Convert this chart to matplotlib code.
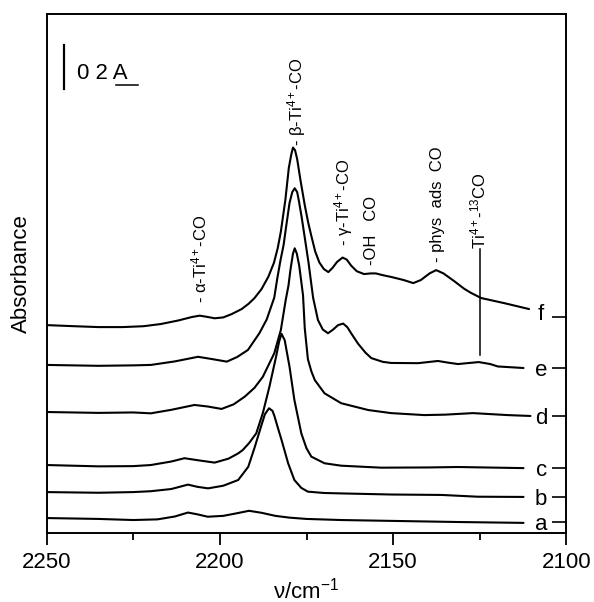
import matplotlib
matplotlib.use('Agg')
import matplotlib.pyplot as plt

plt.rcParams['font.family'] = ['Liberation Sans', 'DejaVu Sans']
plt.rcParams['mathtext.fontset'] = 'custom'
plt.rcParams['mathtext.rm'] = 'Liberation Sans'
plt.rcParams['mathtext.it'] = 'Liberation Sans:italic'
plt.rcParams['mathtext.bf'] = 'Liberation Sans:bold'

# ---- data (wavenumber / cm-1, absorbance incl. vertical offset) ----
wn_a = [2250, 2235, 2225, 2218, 2213, 2209.2, 2206.5, 2203.5, 2199, 2195, 2191.6, 2188,
        2184, 2180, 2175, 2165, 2150, 2131.3, 2112.4]
abs_a = [0.068, 0.064, 0.059, 0.062, 0.075, 0.093, 0.085, 0.074, 0.078, 0.090, 0.101, 0.092,
         0.078, 0.070, 0.064, 0.059, 0.055, 0.050, 0.046]

wn_b = [2250, 2235, 2225, 2219.9, 2214, 2209.2, 2206.5, 2203.4, 2199, 2194.7, 2191.8, 2189.9,
        2188.0, 2187.0, 2185.8, 2184.8, 2184.2, 2183.2, 2182.2, 2180.3, 2178.5, 2176.5,
        2174.6, 2170, 2165, 2150.6, 2136, 2125.6, 2112.4]
abs_b = [0.186, 0.183, 0.186, 0.190, 0.200, 0.220, 0.210, 0.203, 0.215, 0.241, 0.301, 0.392,
         0.490, 0.540, 0.567, 0.555, 0.529, 0.475, 0.423, 0.317, 0.241, 0.205,
         0.188, 0.182, 0.180, 0.175, 0.173, 0.165, 0.164]

wn_c = [2250, 2235, 2225, 2219.9, 2214, 2210.2, 2206, 2201.5, 2197.5, 2194.7, 2193.4, 2191.5,
        2189.5, 2187.6, 2185.7, 2183.8, 2182.9, 2182.2, 2181.3, 2179.9, 2178.5, 2176.5,
        2175, 2173.6, 2169.8, 2165, 2153.5, 2140, 2131.3, 2112.4]
abs_c = [0.309, 0.303, 0.304, 0.309, 0.325, 0.340, 0.330, 0.320, 0.338, 0.362, 0.377, 0.410,
         0.453, 0.545, 0.665, 0.800, 0.870, 0.905, 0.877, 0.756, 0.605, 0.453,
         0.385, 0.347, 0.317, 0.306, 0.297, 0.298, 0.300, 0.295]

wn_d = [2250, 2235, 2225, 2219.9, 2214, 2207.3, 2203.5, 2199.5, 2196, 2192.8, 2190, 2187.6,
        2184.3, 2182.4, 2181.0, 2180.2, 2179.6, 2178.9, 2178.4, 2177.8, 2177.1, 2176.0,
        2175.5, 2174.6, 2173.6, 2172.6, 2169.8, 2165, 2157.2, 2150.6, 2141, 2135, 2127,
        2117, 2110.4]
abs_d = [0.550, 0.546, 0.548, 0.544, 0.560, 0.582, 0.575, 0.564, 0.585, 0.620, 0.660, 0.710,
         0.817, 0.923, 1.059, 1.125, 1.200, 1.270, 1.294, 1.270, 1.215, 1.080,
         0.930, 0.790, 0.735, 0.695, 0.635, 0.590, 0.559, 0.545, 0.536, 0.538, 0.545,
         0.536, 0.532]

wn_e = [2250, 2235, 2225, 2219.9, 2213, 2206.3, 2202, 2198, 2195, 2191.9, 2188.6, 2186.5,
        2184.3, 2183.4, 2182.5, 2181.6, 2180.9, 2179.9, 2179.1, 2178.4, 2177.7, 2177.2,
        2176.4, 2175.4, 2174.4, 2173.1, 2171.7, 2170.3, 2168.8, 2167.3, 2165.9, 2164.4,
        2163.2, 2162.0, 2160.1, 2158, 2156.3, 2153, 2150.6, 2142.8, 2137.1, 2134, 2131.3,
        2125.3, 2122, 2119.8, 2112.4]
abs_e = [0.764, 0.760, 0.762, 0.764, 0.780, 0.801, 0.790, 0.779, 0.800, 0.832, 0.908, 0.970,
         1.070, 1.160, 1.240, 1.310, 1.390, 1.500, 1.550, 1.567, 1.550, 1.510,
         1.436, 1.332, 1.227, 1.070, 0.968, 0.925, 0.908, 0.925, 0.945, 0.952,
         0.935, 0.905, 0.860, 0.820, 0.795, 0.778, 0.773, 0.772, 0.782, 0.774, 0.768,
         0.777, 0.768, 0.757, 0.750]

wn_f = [2250, 2242, 2235, 2228, 2222, 2217, 2212, 2208, 2205.8, 2203.5, 2201.5, 2199,
        2196.6, 2193.7, 2191.7, 2190, 2188, 2186, 2184.4, 2183.3, 2182.4, 2181.1, 2180.1,
        2179.4, 2178.9, 2178.3, 2177.7, 2176.7, 2175.5, 2174.5, 2173.6, 2172.5, 2171.3,
        2170.0, 2168.7, 2167.5, 2166.2, 2164.6, 2163.4, 2162.1, 2160.5, 2158.4, 2156.5,
        2155.0, 2153, 2150.6, 2147, 2144.2, 2142, 2139.5, 2137.6, 2135.5, 2132.4, 2129.5,
        2127.5, 2124.6, 2118.0, 2110.8]
abs_f = [0.945, 0.940, 0.936, 0.936, 0.940, 0.950, 0.966, 0.982, 0.988, 0.982, 0.976, 0.980,
         0.995, 1.018, 1.042, 1.068, 1.108, 1.165, 1.228, 1.295, 1.370, 1.514, 1.660,
         1.720, 1.752, 1.740, 1.700, 1.600, 1.490, 1.410, 1.350, 1.280, 1.230,
         1.200, 1.186, 1.205, 1.232, 1.252, 1.243, 1.215, 1.190, 1.177, 1.180,
         1.180, 1.172, 1.164, 1.150, 1.136, 1.150, 1.180, 1.195, 1.180, 1.145, 1.110,
         1.091, 1.068, 1.045, 1.018]

curve_labels = ['a', 'b', 'c', 'd', 'e', 'f']
baselines = [0.050, 0.164, 0.295, 0.532, 0.750, 0.982]
label_levels = [0.050, 0.164, 0.295, 0.532, 0.750, 1.005]

band_texts = ['- α-Ti$^{4+}$-CO', '- β-Ti$^{4+}$-CO', '- γ-Ti$^{4+}$-CO',
              '-OH   CO', '- phys  ads  CO', 'Ti$^{4+}$-$^{13}$CO']
band_wn = [2205.9, 2177.9, 2164.4, 2156.2, 2137.2, 2125.3]
band_y = [1.045, 1.760, 1.305, 1.218, 1.232, 1.290]

xticks_major = [2250, 2200, 2150, 2100]
xticks_minor = [2225, 2175, 2125]

# ---- figure ----
fig = plt.figure(figsize=(5.94, 6.02), dpi=100)
ax = fig.add_axes([0.0783, 0.1146, 0.8754, 0.8621])

series = [(wn_a, abs_a), (wn_b, abs_b), (wn_c, abs_c),
          (wn_d, abs_d), (wn_e, abs_e), (wn_f, abs_f)]
for (w, a) in series:
    ax.plot(w, a, color='black', lw=1.5, solid_joinstyle='round', solid_capstyle='round')

for lab, lv in zip(curve_labels, label_levels):
    ax.text(2107.3, lv, lab, ha='center', va='center_baseline', fontsize=16)

for t, w, y in zip(band_texts, band_wn, band_y):
    ax.text(w, y, t, rotation=90, ha='center', va='bottom', fontsize=12)

# marker line for the 13CO band
ax.plot([2125.0, 2125.0], [0.809, 1.290], color='black', lw=1.1)

# scale bar 0.2 A
ax.plot([2244.9, 2244.9], [2.018, 2.218], color='black', lw=1.6)
ax.text(2241.3, 2.09, '0 2 A', ha='left', va='center', fontsize=16)
ax.plot([2230.0, 2223.5], [2.036, 2.036], color='black', lw=1.1)

ax.set_xlim(2250, 2100)
ax.set_ylim(0, 2.359)

ax.set_xticks(xticks_major)
ax.set_xticks(xticks_minor, minor=True)
ax.tick_params(axis='x', which='major', direction='out', length=8.5, width=1.3,
               labelsize=16, pad=5, top=False)
ax.tick_params(axis='x', which='minor', direction='out', length=5, width=1.3, top=False)

ax.yaxis.tick_right()
ax.set_yticks(baselines)
ax.tick_params(axis='y', which='major', direction='in', length=10, width=1.2,
               labelright=False, labelleft=False, left=False, right=True)
ax.set_yticks([], minor=True)

for s in ax.spines.values():
    s.set_linewidth(1.4)

ax.set_xlabel('ν/cm$^{-1}$', fontsize=16)
ax.xaxis.set_label_coords(0.5, -0.085)
ax.set_ylabel('Absorbance', fontsize=16)
ax.yaxis.set_label_position('left')
ax.yaxis.set_label_coords(-0.028, 0.5)

fig.savefig('out.png', dpi=100)
